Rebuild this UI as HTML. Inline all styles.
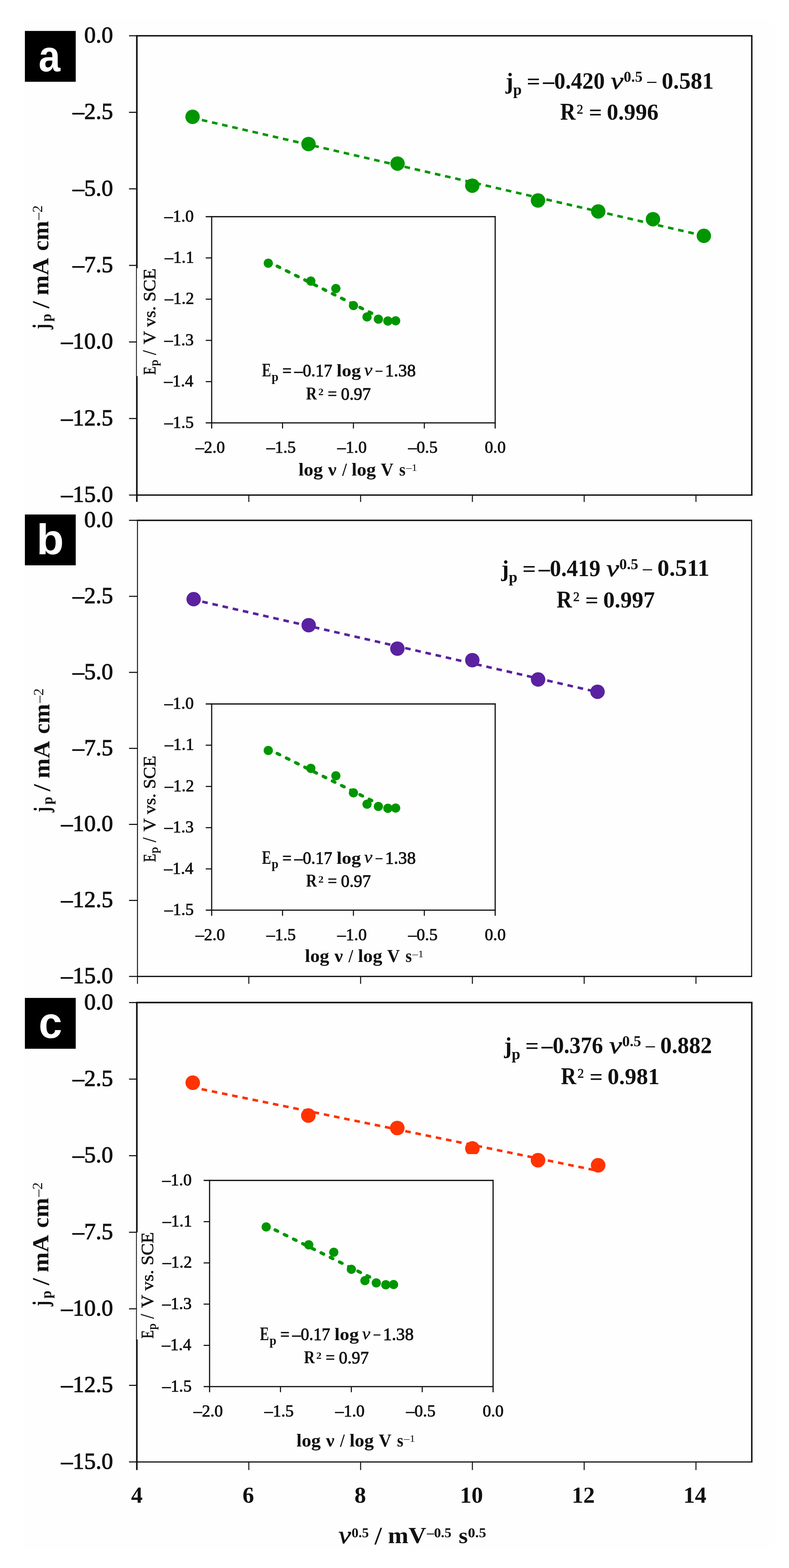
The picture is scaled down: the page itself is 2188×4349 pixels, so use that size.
<!DOCTYPE html>
<html><head><meta charset="utf-8"><title>Figure</title>
<style>html,body{margin:0;padding:0;background:#fff;} svg{display:block;}</style></head>
<body>
<svg width="2188" height="4349" viewBox="0 0 2188 4349">
<rect x="0" y="0" width="2188" height="4349" fill="#fff"/>
<rect x="66" y="51" width="2084" height="4249" fill="#fefefe"/>
<line x1="377.3" y1="99.2" x2="2086.8" y2="99.2" stroke="#111" stroke-width="4" />
<line x1="377.3" y1="1373.1" x2="2086.8" y2="1373.1" stroke="#111" stroke-width="3.6" />
<line x1="2084.8" y1="99.2" x2="2084.8" y2="1373.1" stroke="#111" stroke-width="4" />
<line x1="379.5" y1="99.2" x2="379.5" y2="744.0" stroke="#111" stroke-width="4.4" />
<line x1="378.4" y1="744.0" x2="378.4" y2="1043.0" stroke="#111" stroke-width="2.3" />
<line x1="379.5" y1="1043.0" x2="379.5" y2="1392.1" stroke="#111" stroke-width="4.4" />
<line x1="357.8" y1="99.2" x2="379.5" y2="99.2" stroke="#111" stroke-width="3" />
<line x1="357.8" y1="311.5" x2="379.5" y2="311.5" stroke="#111" stroke-width="3" />
<line x1="357.8" y1="523.8" x2="379.5" y2="523.8" stroke="#111" stroke-width="3" />
<line x1="357.8" y1="736.1" x2="379.5" y2="736.1" stroke="#111" stroke-width="3" />
<line x1="357.8" y1="948.5" x2="379.5" y2="948.5" stroke="#111" stroke-width="3" />
<line x1="357.8" y1="1160.8" x2="379.5" y2="1160.8" stroke="#111" stroke-width="3" />
<line x1="357.8" y1="1373.1" x2="379.5" y2="1373.1" stroke="#111" stroke-width="3" />
<line x1="690.0" y1="1373.1" x2="690.0" y2="1392.1" stroke="#111" stroke-width="2.8" />
<line x1="1000.0" y1="1373.1" x2="1000.0" y2="1392.1" stroke="#111" stroke-width="2.8" />
<line x1="1310.0" y1="1373.1" x2="1310.0" y2="1392.1" stroke="#111" stroke-width="2.8" />
<line x1="1620.0" y1="1373.1" x2="1620.0" y2="1392.1" stroke="#111" stroke-width="2.8" />
<line x1="1930.0" y1="1373.1" x2="1930.0" y2="1392.1" stroke="#111" stroke-width="2.8" />
<line x1="379.9" y1="1443.2" x2="2085.8" y2="1443.2" stroke="#111" stroke-width="4" />
<line x1="379.9" y1="2708.2" x2="2085.8" y2="2708.2" stroke="#111" stroke-width="3.4" />
<line x1="2084.3" y1="1443.2" x2="2084.3" y2="2708.2" stroke="#111" stroke-width="3" />
<line x1="381.2" y1="1443.2" x2="381.2" y2="2728.7" stroke="#111" stroke-width="2.6" />
<line x1="357.8" y1="1443.2" x2="381.2" y2="1443.2" stroke="#111" stroke-width="3" />
<line x1="357.8" y1="1654.0" x2="381.2" y2="1654.0" stroke="#111" stroke-width="3" />
<line x1="357.8" y1="1864.9" x2="381.2" y2="1864.9" stroke="#111" stroke-width="3" />
<line x1="357.8" y1="2075.7" x2="381.2" y2="2075.7" stroke="#111" stroke-width="3" />
<line x1="357.8" y1="2286.5" x2="381.2" y2="2286.5" stroke="#111" stroke-width="3" />
<line x1="357.8" y1="2497.4" x2="381.2" y2="2497.4" stroke="#111" stroke-width="3" />
<line x1="357.8" y1="2708.2" x2="381.2" y2="2708.2" stroke="#111" stroke-width="3" />
<line x1="690.0" y1="2708.2" x2="690.0" y2="2728.7" stroke="#111" stroke-width="2.8" />
<line x1="1000.0" y1="2708.2" x2="1000.0" y2="2728.7" stroke="#111" stroke-width="2.8" />
<line x1="1310.0" y1="2708.2" x2="1310.0" y2="2728.7" stroke="#111" stroke-width="2.8" />
<line x1="1620.0" y1="2708.2" x2="1620.0" y2="2728.7" stroke="#111" stroke-width="2.8" />
<line x1="1930.0" y1="2708.2" x2="1930.0" y2="2728.7" stroke="#111" stroke-width="2.8" />
<line x1="377.3" y1="2780.7" x2="2086.8" y2="2780.7" stroke="#111" stroke-width="4.2" />
<line x1="377.3" y1="4054.8" x2="2086.8" y2="4054.8" stroke="#111" stroke-width="3.2" />
<line x1="2084.8" y1="2780.7" x2="2084.8" y2="4054.8" stroke="#111" stroke-width="4" />
<line x1="379.5" y1="2780.7" x2="379.5" y2="3418.0" stroke="#111" stroke-width="4.4" />
<line x1="378.4" y1="3418.0" x2="378.4" y2="3715.0" stroke="#111" stroke-width="2.3" />
<line x1="379.5" y1="3715.0" x2="379.5" y2="4077.3" stroke="#111" stroke-width="4.4" />
<line x1="357.8" y1="2780.7" x2="379.5" y2="2780.7" stroke="#111" stroke-width="3" />
<line x1="357.8" y1="2993.0" x2="379.5" y2="2993.0" stroke="#111" stroke-width="3" />
<line x1="357.8" y1="3205.4" x2="379.5" y2="3205.4" stroke="#111" stroke-width="3" />
<line x1="357.8" y1="3417.8" x2="379.5" y2="3417.8" stroke="#111" stroke-width="3" />
<line x1="357.8" y1="3630.1" x2="379.5" y2="3630.1" stroke="#111" stroke-width="3" />
<line x1="357.8" y1="3842.4" x2="379.5" y2="3842.4" stroke="#111" stroke-width="3" />
<line x1="357.8" y1="4054.8" x2="379.5" y2="4054.8" stroke="#111" stroke-width="3" />
<line x1="690.0" y1="4054.8" x2="690.0" y2="4077.3" stroke="#111" stroke-width="2.8" />
<line x1="1000.0" y1="4054.8" x2="1000.0" y2="4077.3" stroke="#111" stroke-width="2.8" />
<line x1="1310.0" y1="4054.8" x2="1310.0" y2="4077.3" stroke="#111" stroke-width="2.8" />
<line x1="1620.0" y1="4054.8" x2="1620.0" y2="4077.3" stroke="#111" stroke-width="2.8" />
<line x1="1930.0" y1="4054.8" x2="1930.0" y2="4077.3" stroke="#111" stroke-width="2.8" />
<line x1="534" y1="327" x2="1952" y2="654" stroke="#009600" stroke-width="7" stroke-dasharray="15.5 13.34" stroke-dashoffset="2.4"/>
<circle cx="534.0" cy="324.0" r="20" fill="#009600" />
<circle cx="855.5" cy="399.5" r="20" fill="#009600" />
<circle cx="1102.4" cy="453.7" r="20" fill="#009600" />
<circle cx="1309.7" cy="514.9" r="20" fill="#009600" />
<circle cx="1491.9" cy="556.0" r="20" fill="#009600" />
<circle cx="1659.0" cy="586.4" r="20" fill="#009600" />
<circle cx="1810.8" cy="607.9" r="20" fill="#009600" />
<circle cx="1951.9" cy="654.1" r="20" fill="#009600" />
<line x1="535.5" y1="1663" x2="1657" y2="1919.4" stroke="#5a22a0" stroke-width="7" stroke-dasharray="15.5 13.36" stroke-dashoffset="2.8"/>
<circle cx="537.0" cy="1661.8" r="20" fill="#5a22a0" />
<circle cx="856.0" cy="1734.0" r="20" fill="#5a22a0" />
<circle cx="1102.0" cy="1799.0" r="20" fill="#5a22a0" />
<circle cx="1309.8" cy="1831.0" r="20" fill="#5a22a0" />
<circle cx="1492.2" cy="1884.6" r="20" fill="#5a22a0" />
<circle cx="1657.0" cy="1918.7" r="20" fill="#5a22a0" />
<line x1="534.5" y1="3015.8" x2="1659" y2="3247.5" stroke="#ff3300" stroke-width="7" stroke-dasharray="15.5 13.33" stroke-dashoffset="3.7"/>
<clipPath id="cc4"><rect x="1280" y="3150" width="60" height="51"/></clipPath>
<circle cx="534.5" cy="3003.0" r="20.2" fill="#ff3300" />
<circle cx="855.0" cy="3094.0" r="20.2" fill="#ff3300" />
<circle cx="1101.7" cy="3128.6" r="20.2" fill="#ff3300" />
<circle cx="1310.0" cy="3185.3" r="20.2" fill="#ff3300" clip-path="url(#cc4)"/>
<circle cx="1492.0" cy="3218.0" r="20.2" fill="#ff3300" />
<circle cx="1658.7" cy="3232.0" r="20.2" fill="#ff3300" />
<line x1="587.0" y1="601.0" x2="1374.8" y2="601.0" stroke="#111" stroke-width="3.4" />
<line x1="570.5" y1="1172.9" x2="1374.8" y2="1172.9" stroke="#111" stroke-width="3.4" />
<line x1="587.0" y1="599.3" x2="587.0" y2="1188.4" stroke="#111" stroke-width="3.2" />
<line x1="1373.2" y1="599.3" x2="1373.2" y2="1188.4" stroke="#111" stroke-width="3.2" />
<line x1="570.5" y1="601.0" x2="587.0" y2="601.0" stroke="#111" stroke-width="3.4" />
<line x1="570.5" y1="715.4" x2="587.0" y2="715.4" stroke="#111" stroke-width="3" />
<line x1="570.5" y1="829.8" x2="587.0" y2="829.8" stroke="#111" stroke-width="3" />
<line x1="570.5" y1="944.1" x2="587.0" y2="944.1" stroke="#111" stroke-width="3" />
<line x1="570.5" y1="1058.5" x2="587.0" y2="1058.5" stroke="#111" stroke-width="3" />
<line x1="783.5" y1="1172.9" x2="783.5" y2="1188.4" stroke="#111" stroke-width="3" />
<line x1="980.1" y1="1172.9" x2="980.1" y2="1188.4" stroke="#111" stroke-width="3" />
<line x1="1176.7" y1="1172.9" x2="1176.7" y2="1188.4" stroke="#111" stroke-width="3" />
<line x1="744" y1="726" x2="1062" y2="884.4" stroke="#009600" stroke-width="9" stroke-linecap="round" stroke-dasharray="8 20.5" stroke-dashoffset="1.0"/>
<circle cx="744.0" cy="730.0" r="12.8" fill="#009600" />
<circle cx="862.0" cy="779.6" r="12.8" fill="#009600" />
<circle cx="931.4" cy="800.3" r="12.8" fill="#009600" />
<circle cx="980.2" cy="847.5" r="12.8" fill="#009600" />
<circle cx="1017.8" cy="879.0" r="12.8" fill="#009600" />
<circle cx="1049.3" cy="885.2" r="12.8" fill="#009600" />
<circle cx="1075.6" cy="890.4" r="12.8" fill="#009600" />
<circle cx="1097.2" cy="889.8" r="12.8" fill="#009600" />
<line x1="587.0" y1="1952.5" x2="1374.8" y2="1952.5" stroke="#111" stroke-width="3.4" />
<line x1="570.5" y1="2524.4" x2="1374.8" y2="2524.4" stroke="#111" stroke-width="3.4" />
<line x1="587.0" y1="1950.8" x2="587.0" y2="2539.9" stroke="#111" stroke-width="3.2" />
<line x1="1373.2" y1="1950.8" x2="1373.2" y2="2539.9" stroke="#111" stroke-width="3.2" />
<line x1="570.5" y1="1952.5" x2="587.0" y2="1952.5" stroke="#111" stroke-width="3.4" />
<line x1="570.5" y1="2066.9" x2="587.0" y2="2066.9" stroke="#111" stroke-width="3" />
<line x1="570.5" y1="2181.3" x2="587.0" y2="2181.3" stroke="#111" stroke-width="3" />
<line x1="570.5" y1="2295.6" x2="587.0" y2="2295.6" stroke="#111" stroke-width="3" />
<line x1="570.5" y1="2410.0" x2="587.0" y2="2410.0" stroke="#111" stroke-width="3" />
<line x1="783.5" y1="2524.4" x2="783.5" y2="2539.9" stroke="#111" stroke-width="3" />
<line x1="980.1" y1="2524.4" x2="980.1" y2="2539.9" stroke="#111" stroke-width="3" />
<line x1="1176.7" y1="2524.4" x2="1176.7" y2="2539.9" stroke="#111" stroke-width="3" />
<line x1="744" y1="2077.5" x2="1062" y2="2235.9" stroke="#009600" stroke-width="9" stroke-linecap="round" stroke-dasharray="8 20.5" stroke-dashoffset="1.0"/>
<circle cx="744.0" cy="2081.5" r="12.8" fill="#009600" />
<circle cx="862.0" cy="2131.1" r="12.8" fill="#009600" />
<circle cx="931.4" cy="2151.8" r="12.8" fill="#009600" />
<circle cx="980.2" cy="2199.0" r="12.8" fill="#009600" />
<circle cx="1017.8" cy="2230.5" r="12.8" fill="#009600" />
<circle cx="1049.3" cy="2236.7" r="12.8" fill="#009600" />
<circle cx="1075.6" cy="2241.9" r="12.8" fill="#009600" />
<circle cx="1097.2" cy="2241.3" r="12.8" fill="#009600" />
<line x1="581.2" y1="3274.0" x2="1369.0" y2="3274.0" stroke="#111" stroke-width="3.4" />
<line x1="564.7" y1="3845.9" x2="1369.0" y2="3845.9" stroke="#111" stroke-width="3.4" />
<line x1="581.2" y1="3272.3" x2="581.2" y2="3861.4" stroke="#111" stroke-width="3.2" />
<line x1="1367.4" y1="3272.3" x2="1367.4" y2="3861.4" stroke="#111" stroke-width="3.2" />
<line x1="564.7" y1="3274.0" x2="581.2" y2="3274.0" stroke="#111" stroke-width="3.4" />
<line x1="564.7" y1="3388.4" x2="581.2" y2="3388.4" stroke="#111" stroke-width="3" />
<line x1="564.7" y1="3502.8" x2="581.2" y2="3502.8" stroke="#111" stroke-width="3" />
<line x1="564.7" y1="3617.1" x2="581.2" y2="3617.1" stroke="#111" stroke-width="3" />
<line x1="564.7" y1="3731.5" x2="581.2" y2="3731.5" stroke="#111" stroke-width="3" />
<line x1="777.8" y1="3845.9" x2="777.8" y2="3861.4" stroke="#111" stroke-width="3" />
<line x1="974.3" y1="3845.9" x2="974.3" y2="3861.4" stroke="#111" stroke-width="3" />
<line x1="1170.9" y1="3845.9" x2="1170.9" y2="3861.4" stroke="#111" stroke-width="3" />
<line x1="738.2" y1="3399" x2="1056.2" y2="3557.4" stroke="#009600" stroke-width="9" stroke-linecap="round" stroke-dasharray="8 20.5" stroke-dashoffset="1.0"/>
<circle cx="738.2" cy="3403.0" r="12.8" fill="#009600" />
<circle cx="856.2" cy="3452.6" r="12.8" fill="#009600" />
<circle cx="925.6" cy="3473.3" r="12.8" fill="#009600" />
<circle cx="974.4" cy="3520.5" r="12.8" fill="#009600" />
<circle cx="1012.0" cy="3552.0" r="12.8" fill="#009600" />
<circle cx="1043.5" cy="3558.2" r="12.8" fill="#009600" />
<circle cx="1069.8" cy="3563.4" r="12.8" fill="#009600" />
<circle cx="1091.4" cy="3562.8" r="12.8" fill="#009600" />
<rect x="69.0" y="85.8" width="141.0" height="141.0" fill="#000" />
<rect x="69.0" y="1427.0" width="141.0" height="141.0" fill="#000" />
<rect x="69.0" y="2767.8" width="141.0" height="141.0" fill="#000" />
<text transform="translate(233.50,118.00)" font-family="'Liberation Serif', serif" font-size="64" stroke="#111" stroke-width="1.5" fill="#111" xml:space="preserve">0.0</text>
<text transform="translate(201.50,330.32)" font-family="'Liberation Serif', serif" font-size="64" stroke="#111" stroke-width="1.5" fill="#111" xml:space="preserve">–2.5</text>
<text transform="translate(201.50,542.63)" font-family="'Liberation Serif', serif" font-size="64" stroke="#111" stroke-width="1.5" fill="#111" xml:space="preserve">–5.0</text>
<text transform="translate(201.50,754.95)" font-family="'Liberation Serif', serif" font-size="64" stroke="#111" stroke-width="1.5" fill="#111" xml:space="preserve">–7.5</text>
<text transform="translate(169.50,967.27)" font-family="'Liberation Serif', serif" font-size="64" stroke="#111" stroke-width="1.5" fill="#111" xml:space="preserve">–10.0</text>
<text transform="translate(169.50,1179.58)" font-family="'Liberation Serif', serif" font-size="64" stroke="#111" stroke-width="1.5" fill="#111" xml:space="preserve">–12.5</text>
<text transform="translate(169.50,1391.90)" font-family="'Liberation Serif', serif" font-size="64" stroke="#111" stroke-width="1.5" fill="#111" xml:space="preserve">–15.0</text>
<text transform="translate(233.50,1462.00)" font-family="'Liberation Serif', serif" font-size="64" stroke="#111" stroke-width="1.5" fill="#111" xml:space="preserve">0.0</text>
<text transform="translate(201.50,1672.83)" font-family="'Liberation Serif', serif" font-size="64" stroke="#111" stroke-width="1.5" fill="#111" xml:space="preserve">–2.5</text>
<text transform="translate(201.50,1883.67)" font-family="'Liberation Serif', serif" font-size="64" stroke="#111" stroke-width="1.5" fill="#111" xml:space="preserve">–5.0</text>
<text transform="translate(201.50,2094.50)" font-family="'Liberation Serif', serif" font-size="64" stroke="#111" stroke-width="1.5" fill="#111" xml:space="preserve">–7.5</text>
<text transform="translate(169.50,2305.33)" font-family="'Liberation Serif', serif" font-size="64" stroke="#111" stroke-width="1.5" fill="#111" xml:space="preserve">–10.0</text>
<text transform="translate(169.50,2516.17)" font-family="'Liberation Serif', serif" font-size="64" stroke="#111" stroke-width="1.5" fill="#111" xml:space="preserve">–12.5</text>
<text transform="translate(169.50,2727.00)" font-family="'Liberation Serif', serif" font-size="64" stroke="#111" stroke-width="1.5" fill="#111" xml:space="preserve">–15.0</text>
<text transform="translate(233.50,2799.50)" font-family="'Liberation Serif', serif" font-size="64" stroke="#111" stroke-width="1.5" fill="#111" xml:space="preserve">0.0</text>
<text transform="translate(201.50,3011.85)" font-family="'Liberation Serif', serif" font-size="64" stroke="#111" stroke-width="1.5" fill="#111" xml:space="preserve">–2.5</text>
<text transform="translate(201.50,3224.20)" font-family="'Liberation Serif', serif" font-size="64" stroke="#111" stroke-width="1.5" fill="#111" xml:space="preserve">–5.0</text>
<text transform="translate(201.50,3436.55)" font-family="'Liberation Serif', serif" font-size="64" stroke="#111" stroke-width="1.5" fill="#111" xml:space="preserve">–7.5</text>
<text transform="translate(169.50,3648.90)" font-family="'Liberation Serif', serif" font-size="64" stroke="#111" stroke-width="1.5" fill="#111" xml:space="preserve">–10.0</text>
<text transform="translate(169.50,3861.25)" font-family="'Liberation Serif', serif" font-size="64" stroke="#111" stroke-width="1.5" fill="#111" xml:space="preserve">–12.5</text>
<text transform="translate(169.50,4073.60)" font-family="'Liberation Serif', serif" font-size="64" stroke="#111" stroke-width="1.5" fill="#111" xml:space="preserve">–15.0</text>
<text transform="translate(455.88,614.60)" font-family="'Liberation Serif', serif" font-size="46.5" stroke="#111" stroke-width="1.2" fill="#111" xml:space="preserve">–1.0</text>
<text transform="translate(456.88,728.98)" font-family="'Liberation Serif', serif" font-size="46.5" stroke="#111" stroke-width="1.2" fill="#111" xml:space="preserve">–1.1</text>
<text transform="translate(456.88,843.36)" font-family="'Liberation Serif', serif" font-size="46.5" stroke="#111" stroke-width="1.2" fill="#111" xml:space="preserve">–1.2</text>
<text transform="translate(455.88,957.74)" font-family="'Liberation Serif', serif" font-size="46.5" stroke="#111" stroke-width="1.2" fill="#111" xml:space="preserve">–1.3</text>
<text transform="translate(454.88,1072.12)" font-family="'Liberation Serif', serif" font-size="46.5" stroke="#111" stroke-width="1.2" fill="#111" xml:space="preserve">–1.4</text>
<text transform="translate(455.88,1186.50)" font-family="'Liberation Serif', serif" font-size="46.5" stroke="#111" stroke-width="1.2" fill="#111" xml:space="preserve">–1.5</text>
<text transform="translate(542.44,1256.30)" font-family="'Liberation Serif', serif" font-size="46.5" stroke="#111" stroke-width="1.2" fill="#111" xml:space="preserve">–2.0</text>
<text transform="translate(738.99,1256.30)" font-family="'Liberation Serif', serif" font-size="46.5" stroke="#111" stroke-width="1.2" fill="#111" xml:space="preserve">–1.5</text>
<text transform="translate(935.54,1256.30)" font-family="'Liberation Serif', serif" font-size="46.5" stroke="#111" stroke-width="1.2" fill="#111" xml:space="preserve">–1.0</text>
<text transform="translate(1132.09,1256.30)" font-family="'Liberation Serif', serif" font-size="46.5" stroke="#111" stroke-width="1.2" fill="#111" xml:space="preserve">–0.5</text>
<text transform="translate(1344.26,1256.30)" font-family="'Liberation Serif', serif" font-size="46.5" stroke="#111" stroke-width="1.2" fill="#111" xml:space="preserve">0.0</text>
<text transform="translate(827.80,1318.60) scale(1.0565,1)" font-family="'Liberation Serif', serif" font-size="50" font-weight="bold" fill="#111" xml:space="preserve">log</text>
<text transform="translate(909.85,1318.60) scale(1.0522,1)" font-family="'Liberation Serif', serif" font-size="50" font-weight="bold" fill="#111" xml:space="preserve">ν</text>
<text transform="translate(948.92,1318.60) scale(0.9250,1)" font-family="'Liberation Serif', serif" font-size="50" font-weight="bold" fill="#111" xml:space="preserve">/</text>
<text transform="translate(975.00,1318.60) scale(1.0549,1)" font-family="'Liberation Serif', serif" font-size="50" font-weight="bold" fill="#111" xml:space="preserve">log</text>
<text transform="translate(1056.00,1318.60) scale(0.9722,1)" font-family="'Liberation Serif', serif" font-size="50" font-weight="bold" fill="#111" xml:space="preserve">V</text>
<text transform="translate(1106.90,1318.60) scale(0.9000,1)" font-family="'Liberation Serif', serif" font-size="50" font-weight="bold" fill="#111" xml:space="preserve">s</text>
<text transform="translate(1125.91,1305.60) scale(1.1107,1)" font-family="'Liberation Serif', serif" font-size="28" fill="#111" xml:space="preserve">–1</text>
<text transform="translate(430.70,1039.57) rotate(-90) scale(0.7704,1)" font-family="'Liberation Serif', serif" font-size="49" stroke="#111" stroke-width="0.9" fill="#111" xml:space="preserve">E</text>
<text transform="translate(438.20,1015.00) rotate(-90) scale(1.0933,1)" font-family="'Liberation Serif', serif" font-size="31.5" stroke="#111" stroke-width="0.9" fill="#111" xml:space="preserve">p</text>
<text transform="translate(431.70,984.40) rotate(-90) scale(0.9000,1)" font-family="'Liberation Serif', serif" font-size="52" stroke="#111" stroke-width="0.9" fill="#111" xml:space="preserve">/</text>
<text transform="translate(430.70,954.40) rotate(-90) scale(1.0263,1)" font-family="'Liberation Serif', serif" font-size="49" stroke="#111" stroke-width="0.9" fill="#111" xml:space="preserve">V vs. SCE</text>
<text transform="translate(726.50,1044.40) scale(0.7303,1)" font-family="'Liberation Serif', serif" font-size="52" font-weight="bold" fill="#111" xml:space="preserve">E</text>
<text transform="translate(753.30,1056.50) scale(0.9737,1)" font-family="'Liberation Serif', serif" font-size="35" font-weight="bold" fill="#111" xml:space="preserve">p</text>
<text transform="translate(782.95,1044.40) scale(0.9250,1)" font-family="'Liberation Serif', serif" font-size="49" stroke="#111" stroke-width="1.3" fill="#111" xml:space="preserve">=</text>
<text transform="translate(816.35,1044.40) scale(0.9535,1)" font-family="'Liberation Serif', serif" font-size="49" stroke="#111" stroke-width="1.3" fill="#111" xml:space="preserve">–0.17</text>
<text transform="translate(933.30,1044.40) scale(1.0806,1)" font-family="'Liberation Serif', serif" font-size="49" font-weight="bold" fill="#111" xml:space="preserve">log</text>
<text transform="translate(1009.80,1041.70) scale(1.0545,1)" font-family="'Liberation Serif', serif" font-size="49" font-style="italic" stroke="#111" stroke-width="0.6" fill="#111" xml:space="preserve">ν</text>
<text transform="translate(1042.05,1041.00) scale(0.7462,1)" font-family="'Liberation Serif', serif" font-size="49" stroke="#111" stroke-width="0.6" fill="#111" xml:space="preserve">–</text>
<text transform="translate(1067.93,1044.40) scale(0.9919,1)" font-family="'Liberation Serif', serif" font-size="49" stroke="#111" stroke-width="1.3" fill="#111" xml:space="preserve">1.38</text>
<text transform="translate(848.70,1107.60) scale(0.8270,1)" font-family="'Liberation Serif', serif" font-size="50" font-weight="bold" fill="#111" xml:space="preserve">R</text>
<text transform="translate(882.82,1096.30) scale(1.0833,1)" font-family="'Liberation Serif', serif" font-size="27" font-weight="bold" fill="#111" xml:space="preserve">2</text>
<text transform="translate(908.84,1107.60) scale(0.9292,1)" font-family="'Liberation Serif', serif" font-size="49" stroke="#111" stroke-width="1.0" fill="#111" xml:space="preserve">=</text>
<text transform="translate(945.53,1108.60) scale(0.9674,1)" font-family="'Liberation Serif', serif" font-size="49" stroke="#111" stroke-width="1.3" fill="#111" xml:space="preserve">0.97</text>
<text transform="translate(455.88,1966.10)" font-family="'Liberation Serif', serif" font-size="46.5" stroke="#111" stroke-width="1.2" fill="#111" xml:space="preserve">–1.0</text>
<text transform="translate(456.88,2080.48)" font-family="'Liberation Serif', serif" font-size="46.5" stroke="#111" stroke-width="1.2" fill="#111" xml:space="preserve">–1.1</text>
<text transform="translate(456.88,2194.86)" font-family="'Liberation Serif', serif" font-size="46.5" stroke="#111" stroke-width="1.2" fill="#111" xml:space="preserve">–1.2</text>
<text transform="translate(455.88,2309.24)" font-family="'Liberation Serif', serif" font-size="46.5" stroke="#111" stroke-width="1.2" fill="#111" xml:space="preserve">–1.3</text>
<text transform="translate(454.88,2423.62)" font-family="'Liberation Serif', serif" font-size="46.5" stroke="#111" stroke-width="1.2" fill="#111" xml:space="preserve">–1.4</text>
<text transform="translate(455.88,2538.00)" font-family="'Liberation Serif', serif" font-size="46.5" stroke="#111" stroke-width="1.2" fill="#111" xml:space="preserve">–1.5</text>
<text transform="translate(542.44,2607.80)" font-family="'Liberation Serif', serif" font-size="46.5" stroke="#111" stroke-width="1.2" fill="#111" xml:space="preserve">–2.0</text>
<text transform="translate(738.99,2607.80)" font-family="'Liberation Serif', serif" font-size="46.5" stroke="#111" stroke-width="1.2" fill="#111" xml:space="preserve">–1.5</text>
<text transform="translate(935.54,2607.80)" font-family="'Liberation Serif', serif" font-size="46.5" stroke="#111" stroke-width="1.2" fill="#111" xml:space="preserve">–1.0</text>
<text transform="translate(1132.09,2607.80)" font-family="'Liberation Serif', serif" font-size="46.5" stroke="#111" stroke-width="1.2" fill="#111" xml:space="preserve">–0.5</text>
<text transform="translate(1344.26,2607.80)" font-family="'Liberation Serif', serif" font-size="46.5" stroke="#111" stroke-width="1.2" fill="#111" xml:space="preserve">0.0</text>
<text transform="translate(845.50,2668.30) scale(1.0565,1)" font-family="'Liberation Serif', serif" font-size="50" font-weight="bold" fill="#111" xml:space="preserve">log</text>
<text transform="translate(927.55,2668.30) scale(1.0522,1)" font-family="'Liberation Serif', serif" font-size="50" font-weight="bold" fill="#111" xml:space="preserve">ν</text>
<text transform="translate(966.62,2668.30) scale(0.9250,1)" font-family="'Liberation Serif', serif" font-size="50" font-weight="bold" fill="#111" xml:space="preserve">/</text>
<text transform="translate(992.70,2668.30) scale(1.0549,1)" font-family="'Liberation Serif', serif" font-size="50" font-weight="bold" fill="#111" xml:space="preserve">log</text>
<text transform="translate(1073.70,2668.30) scale(0.9722,1)" font-family="'Liberation Serif', serif" font-size="50" font-weight="bold" fill="#111" xml:space="preserve">V</text>
<text transform="translate(1124.60,2668.30) scale(0.9000,1)" font-family="'Liberation Serif', serif" font-size="50" font-weight="bold" fill="#111" xml:space="preserve">s</text>
<text transform="translate(1143.61,2655.30) scale(1.1107,1)" font-family="'Liberation Serif', serif" font-size="28" fill="#111" xml:space="preserve">–1</text>
<text transform="translate(430.70,2391.07) rotate(-90) scale(0.7704,1)" font-family="'Liberation Serif', serif" font-size="49" stroke="#111" stroke-width="0.9" fill="#111" xml:space="preserve">E</text>
<text transform="translate(438.20,2366.50) rotate(-90) scale(1.0933,1)" font-family="'Liberation Serif', serif" font-size="31.5" stroke="#111" stroke-width="0.9" fill="#111" xml:space="preserve">p</text>
<text transform="translate(431.70,2335.90) rotate(-90) scale(0.9000,1)" font-family="'Liberation Serif', serif" font-size="52" stroke="#111" stroke-width="0.9" fill="#111" xml:space="preserve">/</text>
<text transform="translate(430.70,2305.90) rotate(-90) scale(1.0263,1)" font-family="'Liberation Serif', serif" font-size="49" stroke="#111" stroke-width="0.9" fill="#111" xml:space="preserve">V vs. SCE</text>
<text transform="translate(726.50,2395.90) scale(0.7303,1)" font-family="'Liberation Serif', serif" font-size="52" font-weight="bold" fill="#111" xml:space="preserve">E</text>
<text transform="translate(753.30,2408.00) scale(0.9737,1)" font-family="'Liberation Serif', serif" font-size="35" font-weight="bold" fill="#111" xml:space="preserve">p</text>
<text transform="translate(782.95,2395.90) scale(0.9250,1)" font-family="'Liberation Serif', serif" font-size="49" stroke="#111" stroke-width="1.3" fill="#111" xml:space="preserve">=</text>
<text transform="translate(816.35,2395.90) scale(0.9535,1)" font-family="'Liberation Serif', serif" font-size="49" stroke="#111" stroke-width="1.3" fill="#111" xml:space="preserve">–0.17</text>
<text transform="translate(933.30,2395.90) scale(1.0806,1)" font-family="'Liberation Serif', serif" font-size="49" font-weight="bold" fill="#111" xml:space="preserve">log</text>
<text transform="translate(1009.80,2393.20) scale(1.0545,1)" font-family="'Liberation Serif', serif" font-size="49" font-style="italic" stroke="#111" stroke-width="0.6" fill="#111" xml:space="preserve">ν</text>
<text transform="translate(1042.05,2392.50) scale(0.7462,1)" font-family="'Liberation Serif', serif" font-size="49" stroke="#111" stroke-width="0.6" fill="#111" xml:space="preserve">–</text>
<text transform="translate(1067.93,2395.90) scale(0.9919,1)" font-family="'Liberation Serif', serif" font-size="49" stroke="#111" stroke-width="1.3" fill="#111" xml:space="preserve">1.38</text>
<text transform="translate(848.70,2459.10) scale(0.8270,1)" font-family="'Liberation Serif', serif" font-size="50" font-weight="bold" fill="#111" xml:space="preserve">R</text>
<text transform="translate(882.82,2447.80) scale(1.0833,1)" font-family="'Liberation Serif', serif" font-size="27" font-weight="bold" fill="#111" xml:space="preserve">2</text>
<text transform="translate(908.84,2459.10) scale(0.9292,1)" font-family="'Liberation Serif', serif" font-size="49" stroke="#111" stroke-width="1.0" fill="#111" xml:space="preserve">=</text>
<text transform="translate(945.53,2460.10) scale(0.9674,1)" font-family="'Liberation Serif', serif" font-size="49" stroke="#111" stroke-width="1.3" fill="#111" xml:space="preserve">0.97</text>
<text transform="translate(450.08,3287.60)" font-family="'Liberation Serif', serif" font-size="46.5" stroke="#111" stroke-width="1.2" fill="#111" xml:space="preserve">–1.0</text>
<text transform="translate(451.08,3401.98)" font-family="'Liberation Serif', serif" font-size="46.5" stroke="#111" stroke-width="1.2" fill="#111" xml:space="preserve">–1.1</text>
<text transform="translate(451.08,3516.36)" font-family="'Liberation Serif', serif" font-size="46.5" stroke="#111" stroke-width="1.2" fill="#111" xml:space="preserve">–1.2</text>
<text transform="translate(450.08,3630.74)" font-family="'Liberation Serif', serif" font-size="46.5" stroke="#111" stroke-width="1.2" fill="#111" xml:space="preserve">–1.3</text>
<text transform="translate(449.08,3745.12)" font-family="'Liberation Serif', serif" font-size="46.5" stroke="#111" stroke-width="1.2" fill="#111" xml:space="preserve">–1.4</text>
<text transform="translate(450.08,3859.50)" font-family="'Liberation Serif', serif" font-size="46.5" stroke="#111" stroke-width="1.2" fill="#111" xml:space="preserve">–1.5</text>
<text transform="translate(536.64,3929.30)" font-family="'Liberation Serif', serif" font-size="46.5" stroke="#111" stroke-width="1.2" fill="#111" xml:space="preserve">–2.0</text>
<text transform="translate(733.19,3929.30)" font-family="'Liberation Serif', serif" font-size="46.5" stroke="#111" stroke-width="1.2" fill="#111" xml:space="preserve">–1.5</text>
<text transform="translate(929.74,3929.30)" font-family="'Liberation Serif', serif" font-size="46.5" stroke="#111" stroke-width="1.2" fill="#111" xml:space="preserve">–1.0</text>
<text transform="translate(1126.29,3929.30)" font-family="'Liberation Serif', serif" font-size="46.5" stroke="#111" stroke-width="1.2" fill="#111" xml:space="preserve">–0.5</text>
<text transform="translate(1338.46,3929.30)" font-family="'Liberation Serif', serif" font-size="46.5" stroke="#111" stroke-width="1.2" fill="#111" xml:space="preserve">0.0</text>
<text transform="translate(822.00,4011.50) scale(1.0565,1)" font-family="'Liberation Serif', serif" font-size="50" font-weight="bold" fill="#111" xml:space="preserve">log</text>
<text transform="translate(904.05,4011.50) scale(1.0522,1)" font-family="'Liberation Serif', serif" font-size="50" font-weight="bold" fill="#111" xml:space="preserve">ν</text>
<text transform="translate(943.12,4011.50) scale(0.9250,1)" font-family="'Liberation Serif', serif" font-size="50" font-weight="bold" fill="#111" xml:space="preserve">/</text>
<text transform="translate(969.20,4011.50) scale(1.0549,1)" font-family="'Liberation Serif', serif" font-size="50" font-weight="bold" fill="#111" xml:space="preserve">log</text>
<text transform="translate(1050.20,4011.50) scale(0.9722,1)" font-family="'Liberation Serif', serif" font-size="50" font-weight="bold" fill="#111" xml:space="preserve">V</text>
<text transform="translate(1101.10,4011.50) scale(0.9000,1)" font-family="'Liberation Serif', serif" font-size="50" font-weight="bold" fill="#111" xml:space="preserve">s</text>
<text transform="translate(1120.11,3998.50) scale(1.1107,1)" font-family="'Liberation Serif', serif" font-size="28" fill="#111" xml:space="preserve">–1</text>
<text transform="translate(424.90,3712.57) rotate(-90) scale(0.7704,1)" font-family="'Liberation Serif', serif" font-size="49" stroke="#111" stroke-width="0.9" fill="#111" xml:space="preserve">E</text>
<text transform="translate(432.40,3688.00) rotate(-90) scale(1.0933,1)" font-family="'Liberation Serif', serif" font-size="31.5" stroke="#111" stroke-width="0.9" fill="#111" xml:space="preserve">p</text>
<text transform="translate(425.90,3657.40) rotate(-90) scale(0.9000,1)" font-family="'Liberation Serif', serif" font-size="52" stroke="#111" stroke-width="0.9" fill="#111" xml:space="preserve">/</text>
<text transform="translate(424.90,3627.40) rotate(-90) scale(1.0263,1)" font-family="'Liberation Serif', serif" font-size="49" stroke="#111" stroke-width="0.9" fill="#111" xml:space="preserve">V vs. SCE</text>
<text transform="translate(720.70,3717.40) scale(0.7303,1)" font-family="'Liberation Serif', serif" font-size="52" font-weight="bold" fill="#111" xml:space="preserve">E</text>
<text transform="translate(747.50,3729.50) scale(0.9737,1)" font-family="'Liberation Serif', serif" font-size="35" font-weight="bold" fill="#111" xml:space="preserve">p</text>
<text transform="translate(777.15,3717.40) scale(0.9250,1)" font-family="'Liberation Serif', serif" font-size="49" stroke="#111" stroke-width="1.3" fill="#111" xml:space="preserve">=</text>
<text transform="translate(810.55,3717.40) scale(0.9535,1)" font-family="'Liberation Serif', serif" font-size="49" stroke="#111" stroke-width="1.3" fill="#111" xml:space="preserve">–0.17</text>
<text transform="translate(927.50,3717.40) scale(1.0806,1)" font-family="'Liberation Serif', serif" font-size="49" font-weight="bold" fill="#111" xml:space="preserve">log</text>
<text transform="translate(1004.00,3714.70) scale(1.0545,1)" font-family="'Liberation Serif', serif" font-size="49" font-style="italic" stroke="#111" stroke-width="0.6" fill="#111" xml:space="preserve">ν</text>
<text transform="translate(1036.25,3714.00) scale(0.7462,1)" font-family="'Liberation Serif', serif" font-size="49" stroke="#111" stroke-width="0.6" fill="#111" xml:space="preserve">–</text>
<text transform="translate(1062.13,3717.40) scale(0.9919,1)" font-family="'Liberation Serif', serif" font-size="49" stroke="#111" stroke-width="1.3" fill="#111" xml:space="preserve">1.38</text>
<text transform="translate(842.90,3780.60) scale(0.8270,1)" font-family="'Liberation Serif', serif" font-size="50" font-weight="bold" fill="#111" xml:space="preserve">R</text>
<text transform="translate(877.02,3769.30) scale(1.0833,1)" font-family="'Liberation Serif', serif" font-size="27" font-weight="bold" fill="#111" xml:space="preserve">2</text>
<text transform="translate(903.04,3780.60) scale(0.9292,1)" font-family="'Liberation Serif', serif" font-size="49" stroke="#111" stroke-width="1.0" fill="#111" xml:space="preserve">=</text>
<text transform="translate(939.73,3781.60) scale(0.9674,1)" font-family="'Liberation Serif', serif" font-size="49" stroke="#111" stroke-width="1.3" fill="#111" xml:space="preserve">0.97</text>
<text transform="translate(1402.00,246.00)" font-family="'Liberation Serif', serif" font-size="64" font-weight="bold" fill="#111" xml:space="preserve">j</text>
<text transform="translate(1423.00,263.00) scale(0.9739,1)" font-family="'Liberation Serif', serif" font-size="44" font-weight="bold" fill="#111" xml:space="preserve">p</text>
<text transform="translate(1460.81,246.00) scale(1.0621,1)" font-family="'Liberation Serif', serif" font-size="62" font-weight="bold" fill="#111" xml:space="preserve">=</text>
<text transform="translate(1505.67,246.00) scale(0.9669,1)" font-family="'Liberation Serif', serif" font-size="64.5" font-weight="bold" fill="#111" xml:space="preserve">–0.420</text>
<text transform="translate(1693.50,246.00) scale(1.2241,1)" font-family="'Liberation Serif', serif" font-size="65" font-style="italic" stroke="#111" stroke-width="1.0" fill="#111" xml:space="preserve">ν</text>
<text transform="translate(1729.53,226.70) scale(0.9737,1)" font-family="'Liberation Serif', serif" font-size="43" font-weight="bold" fill="#111" xml:space="preserve">0.5</text>
<text transform="translate(1794.82,243.00) scale(0.8182,1)" font-family="'Liberation Serif', serif" font-size="62" fill="#111" xml:space="preserve">–</text>
<text transform="translate(1835.01,245.60) scale(0.9952,1)" font-family="'Liberation Serif', serif" font-size="64.5" font-weight="bold" fill="#111" xml:space="preserve">0.581</text>
<text transform="translate(1553.52,332.00) scale(0.8812,1)" font-family="'Liberation Serif', serif" font-size="67" font-weight="bold" fill="#111" xml:space="preserve">R</text>
<text transform="translate(1599.61,314.70) scale(0.9875,1)" font-family="'Liberation Serif', serif" font-size="36" stroke="#111" stroke-width="0.9" fill="#111" xml:space="preserve">2</text>
<text transform="translate(1632.90,332.00) scale(1.0345,1)" font-family="'Liberation Serif', serif" font-size="62" font-weight="bold" fill="#111" xml:space="preserve">=</text>
<text transform="translate(1682.67,332.00) scale(1.0127,1)" font-family="'Liberation Serif', serif" font-size="63" font-weight="bold" fill="#111" xml:space="preserve">0.996</text>
<text transform="translate(1390.00,1597.80)" font-family="'Liberation Serif', serif" font-size="64" font-weight="bold" fill="#111" xml:space="preserve">j</text>
<text transform="translate(1411.00,1614.80) scale(0.9739,1)" font-family="'Liberation Serif', serif" font-size="44" font-weight="bold" fill="#111" xml:space="preserve">p</text>
<text transform="translate(1448.81,1597.80) scale(1.0621,1)" font-family="'Liberation Serif', serif" font-size="62" font-weight="bold" fill="#111" xml:space="preserve">=</text>
<text transform="translate(1493.67,1597.80) scale(0.9669,1)" font-family="'Liberation Serif', serif" font-size="64.5" font-weight="bold" fill="#111" xml:space="preserve">–0.419</text>
<text transform="translate(1681.50,1597.80) scale(1.2241,1)" font-family="'Liberation Serif', serif" font-size="65" font-style="italic" stroke="#111" stroke-width="1.0" fill="#111" xml:space="preserve">ν</text>
<text transform="translate(1717.53,1578.50) scale(0.9737,1)" font-family="'Liberation Serif', serif" font-size="43" font-weight="bold" fill="#111" xml:space="preserve">0.5</text>
<text transform="translate(1782.82,1594.80) scale(0.8182,1)" font-family="'Liberation Serif', serif" font-size="62" fill="#111" xml:space="preserve">–</text>
<text transform="translate(1822.96,1597.40) scale(1.0212,1)" font-family="'Liberation Serif', serif" font-size="64.5" font-weight="bold" fill="#111" xml:space="preserve">0.511</text>
<text transform="translate(1543.52,1684.50) scale(0.8812,1)" font-family="'Liberation Serif', serif" font-size="67" font-weight="bold" fill="#111" xml:space="preserve">R</text>
<text transform="translate(1589.61,1667.20) scale(0.9875,1)" font-family="'Liberation Serif', serif" font-size="36" stroke="#111" stroke-width="0.9" fill="#111" xml:space="preserve">2</text>
<text transform="translate(1622.90,1684.50) scale(1.0345,1)" font-family="'Liberation Serif', serif" font-size="62" font-weight="bold" fill="#111" xml:space="preserve">=</text>
<text transform="translate(1672.67,1684.50) scale(1.0127,1)" font-family="'Liberation Serif', serif" font-size="63" font-weight="bold" fill="#111" xml:space="preserve">0.997</text>
<text transform="translate(1398.00,2921.30)" font-family="'Liberation Serif', serif" font-size="64" font-weight="bold" fill="#111" xml:space="preserve">j</text>
<text transform="translate(1419.00,2938.30) scale(0.9739,1)" font-family="'Liberation Serif', serif" font-size="44" font-weight="bold" fill="#111" xml:space="preserve">p</text>
<text transform="translate(1456.81,2921.30) scale(1.0621,1)" font-family="'Liberation Serif', serif" font-size="62" font-weight="bold" fill="#111" xml:space="preserve">=</text>
<text transform="translate(1501.66,2921.30) scale(0.9615,1)" font-family="'Liberation Serif', serif" font-size="64.5" font-weight="bold" fill="#111" xml:space="preserve">–0.376</text>
<text transform="translate(1689.50,2921.30) scale(1.2241,1)" font-family="'Liberation Serif', serif" font-size="65" font-style="italic" stroke="#111" stroke-width="1.0" fill="#111" xml:space="preserve">ν</text>
<text transform="translate(1725.53,2902.00) scale(0.9737,1)" font-family="'Liberation Serif', serif" font-size="43" font-weight="bold" fill="#111" xml:space="preserve">0.5</text>
<text transform="translate(1790.82,2918.30) scale(0.8182,1)" font-family="'Liberation Serif', serif" font-size="62" fill="#111" xml:space="preserve">–</text>
<text transform="translate(1831.02,2920.90) scale(0.9881,1)" font-family="'Liberation Serif', serif" font-size="64.5" font-weight="bold" fill="#111" xml:space="preserve">0.882</text>
<text transform="translate(1555.52,3006.50) scale(0.8812,1)" font-family="'Liberation Serif', serif" font-size="67" font-weight="bold" fill="#111" xml:space="preserve">R</text>
<text transform="translate(1601.61,2989.20) scale(0.9875,1)" font-family="'Liberation Serif', serif" font-size="36" stroke="#111" stroke-width="0.9" fill="#111" xml:space="preserve">2</text>
<text transform="translate(1634.90,3006.50) scale(1.0345,1)" font-family="'Liberation Serif', serif" font-size="62" font-weight="bold" fill="#111" xml:space="preserve">=</text>
<text transform="translate(1684.66,3006.50) scale(1.0200,1)" font-family="'Liberation Serif', serif" font-size="63" font-weight="bold" fill="#111" xml:space="preserve">0.981</text>
<text transform="translate(133.70,913.29) rotate(-90) scale(0.7105,1)" font-family="'Liberation Serif', serif" font-size="64" font-weight="bold" fill="#111" xml:space="preserve">j</text>
<text transform="translate(142.10,891.90) rotate(-90) scale(1.0000,1)" font-family="'Liberation Serif', serif" font-size="39.5" font-weight="bold" fill="#111" xml:space="preserve">p</text>
<text transform="translate(134.70,855.20) rotate(-90) scale(1.0737,1)" font-family="'Liberation Serif', serif" font-size="66" stroke="#111" stroke-width="1.0" fill="#111" xml:space="preserve">/</text>
<text transform="translate(133.70,819.35) rotate(-90) scale(1.0456,1)" font-family="'Liberation Serif', serif" font-size="64" font-weight="bold" fill="#111" xml:space="preserve">mA</text>
<text transform="translate(133.70,696.04) rotate(-90) scale(1.0188,1)" font-family="'Liberation Serif', serif" font-size="64" font-weight="bold" fill="#111" xml:space="preserve">cm</text>
<text transform="translate(117.00,610.16) rotate(-90) scale(1.0416,1)" font-family="'Liberation Serif', serif" font-size="39" fill="#111" xml:space="preserve">–2</text>
<text transform="translate(136.80,2252.89) rotate(-90) scale(0.7105,1)" font-family="'Liberation Serif', serif" font-size="64" font-weight="bold" fill="#111" xml:space="preserve">j</text>
<text transform="translate(145.20,2231.50) rotate(-90) scale(1.0000,1)" font-family="'Liberation Serif', serif" font-size="39.5" font-weight="bold" fill="#111" xml:space="preserve">p</text>
<text transform="translate(137.80,2194.80) rotate(-90) scale(1.0737,1)" font-family="'Liberation Serif', serif" font-size="66" stroke="#111" stroke-width="1.0" fill="#111" xml:space="preserve">/</text>
<text transform="translate(136.80,2158.95) rotate(-90) scale(1.0456,1)" font-family="'Liberation Serif', serif" font-size="64" font-weight="bold" fill="#111" xml:space="preserve">mA</text>
<text transform="translate(136.80,2035.64) rotate(-90) scale(1.0188,1)" font-family="'Liberation Serif', serif" font-size="64" font-weight="bold" fill="#111" xml:space="preserve">cm</text>
<text transform="translate(120.10,1949.76) rotate(-90) scale(1.0416,1)" font-family="'Liberation Serif', serif" font-size="39" fill="#111" xml:space="preserve">–2</text>
<text transform="translate(133.70,3622.89) rotate(-90) scale(0.7105,1)" font-family="'Liberation Serif', serif" font-size="64" font-weight="bold" fill="#111" xml:space="preserve">j</text>
<text transform="translate(142.10,3601.50) rotate(-90) scale(1.0000,1)" font-family="'Liberation Serif', serif" font-size="39.5" font-weight="bold" fill="#111" xml:space="preserve">p</text>
<text transform="translate(134.70,3564.80) rotate(-90) scale(1.0737,1)" font-family="'Liberation Serif', serif" font-size="66" stroke="#111" stroke-width="1.0" fill="#111" xml:space="preserve">/</text>
<text transform="translate(133.70,3528.95) rotate(-90) scale(1.0456,1)" font-family="'Liberation Serif', serif" font-size="64" font-weight="bold" fill="#111" xml:space="preserve">mA</text>
<text transform="translate(133.70,3405.64) rotate(-90) scale(1.0188,1)" font-family="'Liberation Serif', serif" font-size="64" font-weight="bold" fill="#111" xml:space="preserve">cm</text>
<text transform="translate(117.00,3319.76) rotate(-90) scale(1.0416,1)" font-family="'Liberation Serif', serif" font-size="39" fill="#111" xml:space="preserve">–2</text>
<text transform="translate(363.50,4168.00)" font-family="'Liberation Serif', serif" font-size="64" font-weight="bold" fill="#111" xml:space="preserve">4</text>
<text transform="translate(672.50,4168.00)" font-family="'Liberation Serif', serif" font-size="64" font-weight="bold" fill="#111" xml:space="preserve">6</text>
<text transform="translate(983.00,4168.00)" font-family="'Liberation Serif', serif" font-size="64" font-weight="bold" fill="#111" xml:space="preserve">8</text>
<text transform="translate(1275.50,4168.00)" font-family="'Liberation Serif', serif" font-size="64" font-weight="bold" fill="#111" xml:space="preserve">10</text>
<text transform="translate(1585.50,4168.00)" font-family="'Liberation Serif', serif" font-size="64" font-weight="bold" fill="#111" xml:space="preserve">12</text>
<text transform="translate(1895.00,4168.00)" font-family="'Liberation Serif', serif" font-size="64" font-weight="bold" fill="#111" xml:space="preserve">14</text>
<text transform="translate(938.70,4280.30) scale(1.1484,1)" font-family="'Liberation Serif', serif" font-size="68" font-style="italic" stroke="#111" stroke-width="1.0" fill="#111" xml:space="preserve">ν</text>
<text transform="translate(974.99,4263.80) scale(1.0088,1)" font-family="'Liberation Serif', serif" font-size="38" font-weight="bold" fill="#111" xml:space="preserve">0.5</text>
<text transform="translate(1038.80,4282.30) scale(1.0632,1)" font-family="'Liberation Serif', serif" font-size="68" stroke="#111" stroke-width="1.0" fill="#111" xml:space="preserve">/</text>
<text transform="translate(1075.82,4280.30) scale(1.0842,1)" font-family="'Liberation Serif', serif" font-size="63" font-weight="bold" fill="#111" xml:space="preserve">mV</text>
<text transform="translate(1184.02,4263.80) scale(1.0226,1)" font-family="'Liberation Serif', serif" font-size="38" font-weight="bold" fill="#111" xml:space="preserve">–0.5</text>
<text transform="translate(1271.95,4280.30) scale(1.0455,1)" font-family="'Liberation Serif', serif" font-size="62" font-weight="bold" fill="#111" xml:space="preserve">s</text>
<text transform="translate(1297.53,4263.80) scale(1.0681,1)" font-family="'Liberation Serif', serif" font-size="38" font-weight="bold" fill="#111" xml:space="preserve">0.5</text>
<text transform="translate(106.94,197.50) scale(0.8879,1)" font-family="'Liberation Sans', Arial, sans-serif" font-size="122" font-weight="bold" fill="#fff" xml:space="preserve">a</text>
<text transform="translate(101.13,1537.00) scale(1.0525,1)" font-family="'Liberation Sans', Arial, sans-serif" font-size="118" font-weight="bold" fill="#fff" xml:space="preserve">b</text>
<text transform="translate(107.16,2879.00) scale(0.9607,1)" font-family="'Liberation Sans', Arial, sans-serif" font-size="122" font-weight="bold" fill="#fff" xml:space="preserve">c</text>
</svg>
</body></html>
